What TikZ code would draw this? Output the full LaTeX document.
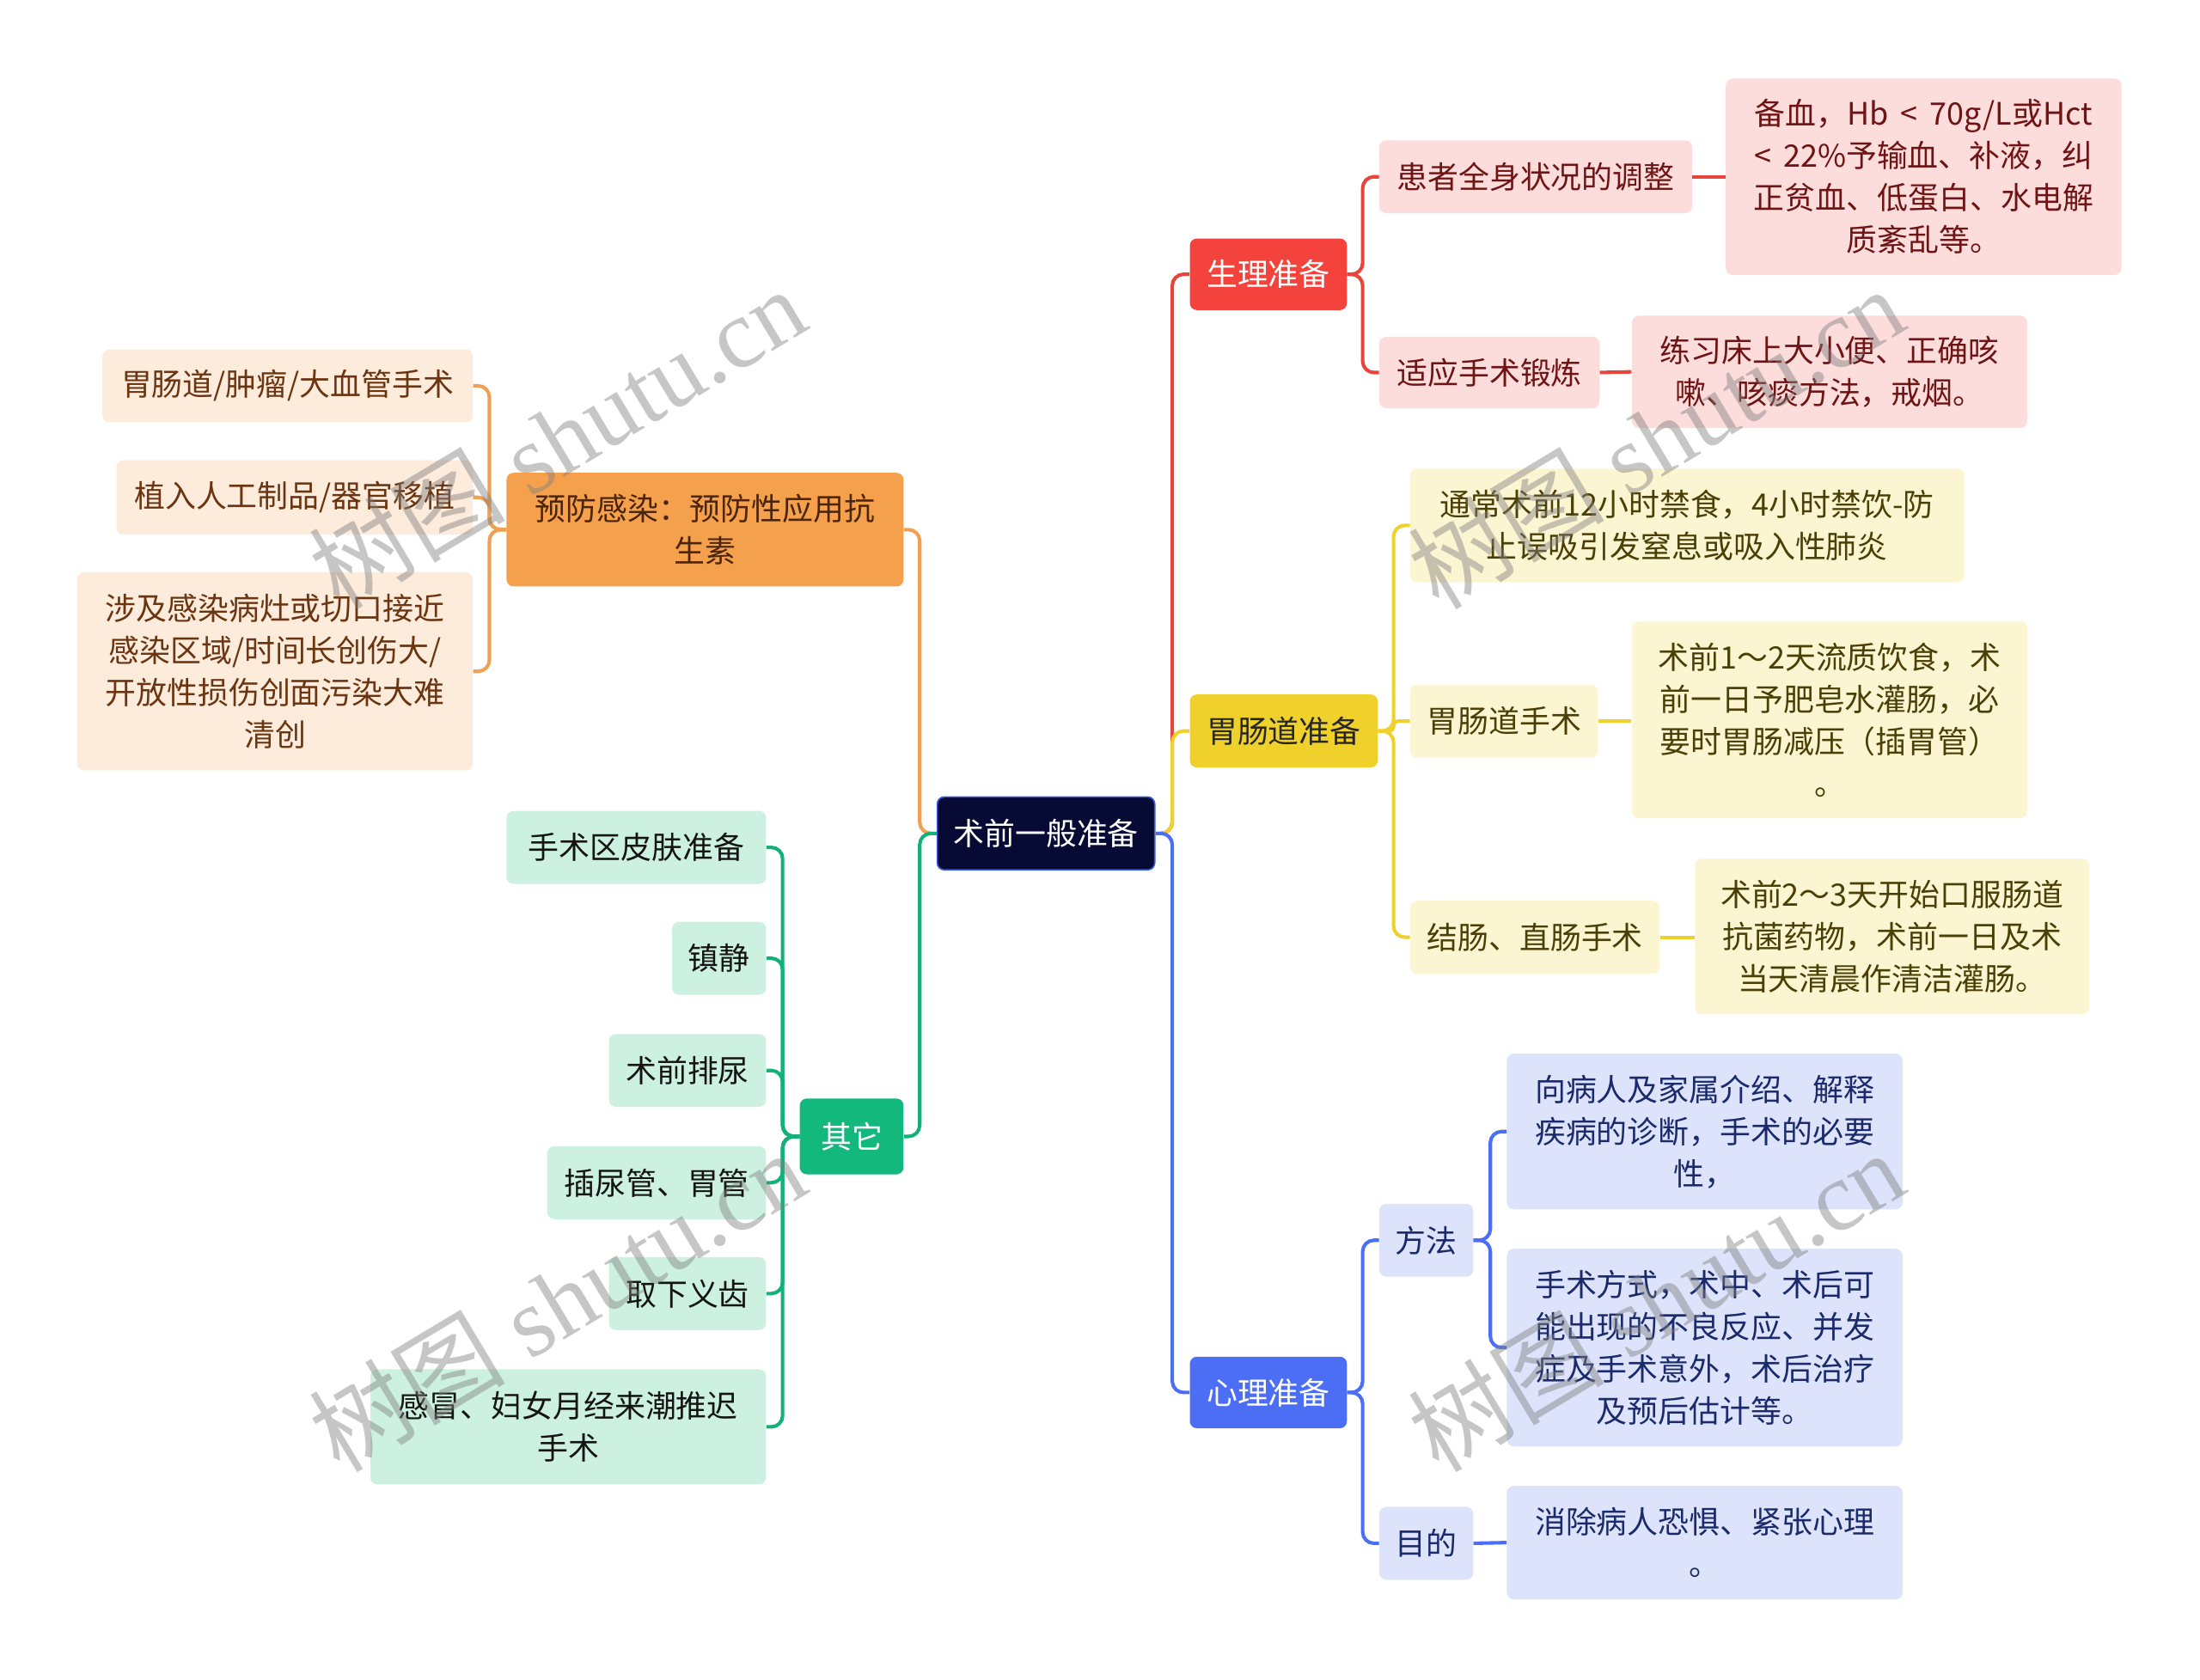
\documentclass[tikz,border=0pt]{standalone}
\usepackage{fontspec}
\setmainfont{Noto Sans CJK SC}
\newfontfamily\wmlatin{Liberation Serif}
\newfontfamily\wmcjk{Noto Sans CJK SC}
\definecolor{rootfill}{HTML}{070A35}
\definecolor{rootdraw}{HTML}{3B5BDB}
\definecolor{redmain}{HTML}{F4433C}
\definecolor{redlight}{HTML}{FDDCDC}
\definecolor{redtxt}{HTML}{6E1414}
\definecolor{redln}{HTML}{E8443A}
\definecolor{yelmain}{HTML}{F0D02A}
\definecolor{yellight}{HTML}{FCF5D2}
\definecolor{yeltxt}{HTML}{4A3F05}
\definecolor{yelln}{HTML}{F0D02A}
\definecolor{blumain}{HTML}{4C6EF5}
\definecolor{blulight}{HTML}{DCE3FB}
\definecolor{blutxt}{HTML}{1B2A6B}
\definecolor{bluln}{HTML}{4C6EF5}
\definecolor{orgmain}{HTML}{F5A04C}
\definecolor{orglight}{HTML}{FDEBDC}
\definecolor{orgtxt}{HTML}{6A3510}
\definecolor{orgln}{HTML}{F0A050}
\definecolor{grnmain}{HTML}{13B97C}
\definecolor{grnlight}{HTML}{CDF1E1}
\definecolor{grntxt}{HTML}{141414}
\definecolor{grnln}{HTML}{13B07A}
\usetikzlibrary{calc}
\tikzset{
  box/.style={rounded corners=5pt, align=center, inner sep=0pt, font=\fontsize{22pt}{30pt}\selectfont},
  rootbox/.style={box, fill=rootfill, draw=rootdraw, line width=1pt, text=white},
  rmain/.style={box, fill=redmain, text=white},
  rsub/.style={box, fill=redlight, text=redtxt},
  ymain/.style={box, fill=yelmain, text=black!85},
  ysub/.style={box, fill=yellight, text=yeltxt},
  bmain/.style={box, fill=blumain, text=white},
  bsub/.style={box, fill=blulight, text=blutxt},
  omain/.style={box, fill=orgmain, text=orgtxt!70!black},
  osub/.style={box, fill=orglight, text=orgtxt},
  gmain/.style={box, fill=grnmain, text=white},
  gsub/.style={box, fill=grnlight, text=grntxt},
  conn/.style={line width=2.5pt, rounded corners=8pt},
  rl/.style={conn, draw=redln},
  yl/.style={conn, draw=yelln},
  bl/.style={conn, draw=bluln},
  ol/.style={conn, draw=orgln},
  gl/.style={conn, draw=grnln},
  wm/.style={text=black!50, opacity=0.45, rotate=31, inner sep=0pt}
}
\begin{document}
\begin{tikzpicture}[x=1pt,y=-1pt]
\useasboundingbox (0,0) rectangle (1568,1197);
% nodes
\node[rootbox, minimum width=155, minimum height=52] (root) at (745.5,594) {术前一般准备};
\node[rmain, minimum width=112, minimum height=51] (sl) at (904,195.5) {生理准备};
\node[ymain, minimum width=134, minimum height=52] (wcz) at (915,521) {胃肠道准备};
\node[bmain, minimum width=112, minimum height=51] (xl) at (904,992.5) {心理准备};
\node[omain, minimum width=283, minimum height=81] (yf) at (502.5,377.5) {预防感染：预防性应用抗\\生素};
\node[gmain, minimum width=74, minimum height=54] (qt) at (607,810) {其它};
% red
\node[rsub, minimum width=223, minimum height=52] (hz) at (1094.5,126) {患者全身状况的调整};
\node[rsub, minimum width=282, minimum height=140] (bx) at (1371,126) {备血，Hb \,<\, 70g/L或Hct\\<\, 22\%予输血、补液，纠\\正贫血、低蛋白、水电解\\质紊乱等。};
\node[rsub, minimum width=157, minimum height=51] (sy) at (1061.5,265.5) {适应手术锻炼};
\node[rsub, minimum width=282, minimum height=80] (lx) at (1304,265) {练习床上大小便、正确咳\\嗽、咳痰方法，戒烟。};
% yellow
\node[ysub, minimum width=395, minimum height=81] (tc) at (1202.5,374.5) {通常术前12小时禁食，4小时禁饮-防\\止误吸引发窒息或吸入性肺炎};
\node[ysub, minimum width=134, minimum height=52] (wc) at (1072,514) {胃肠道手术};
\node[ysub, minimum width=282, minimum height=140] (sq1) at (1304,513) {术前1～2天流质饮食，术\\前一日予肥皂水灌肠，必\\要时胃肠减压（插胃管）\\。};
\node[ysub, minimum width=178, minimum height=52] (jc) at (1094,668) {结肠、直肠手术};
\node[ysub, minimum width=281, minimum height=111] (sq2) at (1348.5,667.5) {术前2～3天开始口服肠道\\抗菌药物，术前一日及术\\当天清晨作清洁灌肠。};
% blue
\node[bsub, minimum width=67, minimum height=52] (ff) at (1016.5,884) {方法};
\node[bsub, minimum width=282, minimum height=111] (xb) at (1215,806.5) {向病人及家属介绍、解释\\疾病的诊断，手术的必要\\性，};
\node[bsub, minimum width=282, minimum height=141] (ss) at (1215,960.5) {手术方式，术中、术后可\\能出现的不良反应、并发\\症及手术意外，术后治疗\\及预后估计等。};
\node[bsub, minimum width=67, minimum height=52] (md) at (1016.5,1100) {目的};
\node[bsub, minimum width=282, minimum height=81] (xc) at (1215,1099.5) {消除病人恐惧、紧张心理\\。};
% orange
\node[osub, minimum width=264, minimum height=52] (o1) at (205,275) {胃肠道/肿瘤/大血管手术};
\node[osub, minimum width=254, minimum height=53] (o2) at (210,354.5) {植入人工制品/器官移植};
\node[osub, minimum width=282, minimum height=141] (o3) at (196,478.5) {涉及感染病灶或切口接近\\感染区域/时间长创伤大/\\开放性损伤创面污染大难\\清创};
% green
\node[gsub, minimum width=185, minimum height=52] (g1) at (453.5,604) {手术区皮肤准备};
\node[gsub, minimum width=67, minimum height=52] (g2) at (512.5,683) {镇静};
\node[gsub, minimum width=112, minimum height=52] (g3) at (490,763) {术前排尿};
\node[gsub, minimum width=156, minimum height=52] (g4) at (468,843) {插尿管、胃管};
\node[gsub, minimum width=112, minimum height=52] (g5) at (490,922) {取下义齿};
\node[gsub, minimum width=282, minimum height=82] (g6) at (405,1017) {感冒、妇女月经来潮推迟\\手术};
% connectors root right
\draw[rl] (root.east) -- ++(12,0) |- (sl.west);
\draw[yl] (root.east) -- ++(12,0) |- (wcz.west);
\draw[bl] (root.east) -- ++(12,0) |- (xl.west);
% root left
\draw[ol] (root.west) -- ++(-12,0) |- (yf.east);
\draw[gl] (root.west) -- ++(-12,0) |- (qt.east);
% red
\draw[rl] (sl.east) -- ++(11,0) |- (hz.west);
\draw[rl] (sl.east) -- ++(11,0) |- (sy.west);
\draw[rl] (hz.east) -- (bx.west);
\draw[rl] (sy.east) -- (lx.west);
% yellow
\draw[yl] (wcz.east) -- ++(11,0) |- (tc.west);
\draw[yl, rounded corners=3pt] (wcz.east) -- ++(11,0) |- (wc.west);
\draw[yl] (wcz.east) -- ++(11,0) |- (jc.west);
\draw[yl] (wc.east) -- (sq1.west |- wc.east);
\draw[yl] (jc.east) -- (sq2.west |- jc.east);
% blue
\draw[bl] (xl.east) -- ++(11,0) |- (ff.west);
\draw[bl] (xl.east) -- ++(11,0) |- (md.west);
\draw[bl] (ff.east) -- ++(12,0) |- (xb.west);
\draw[bl] (ff.east) -- ++(12,0) |- (ss.west);
\draw[bl] (md.east) -- (xc.west);
% orange
\draw[ol] (yf.west) -- ++(-12,0) |- (o1.east);
\draw[ol] (yf.west) -- ++(-12,0) |- (o2.east);
\draw[ol] (yf.west) -- ++(-12,0) |- (o3.east);
% green
\draw[gl] (qt.west) -- ++(-12,0) |- (g1.east);
\draw[gl] (qt.west) -- ++(-12,0) |- (g2.east);
\draw[gl] (qt.west) -- ++(-12,0) |- (g3.east);
\draw[gl] (qt.west) -- ++(-12,0) |- (g4.east);
\draw[gl] (qt.west) -- ++(-12,0) |- (g5.east);
\draw[gl] (qt.west) -- ++(-12,0) |- (g6.east);
% watermarks
\node[wm] (w1) at (397,312) {\fontsize{70pt}{70pt}\selectfont\wmcjk 树图\wmlatin{} shutu.cn};
\node[wm] (w2) at (1180,312) {\fontsize{70pt}{70pt}\selectfont\wmcjk 树图\wmlatin{} shutu.cn};
\node[wm] (w3) at (397,927) {\fontsize{70pt}{70pt}\selectfont\wmcjk 树图\wmlatin{} shutu.cn};
\node[wm] (w4) at (1180,927) {\fontsize{70pt}{70pt}\selectfont\wmcjk 树图\wmlatin{} shutu.cn};
\end{tikzpicture}
\end{document}
